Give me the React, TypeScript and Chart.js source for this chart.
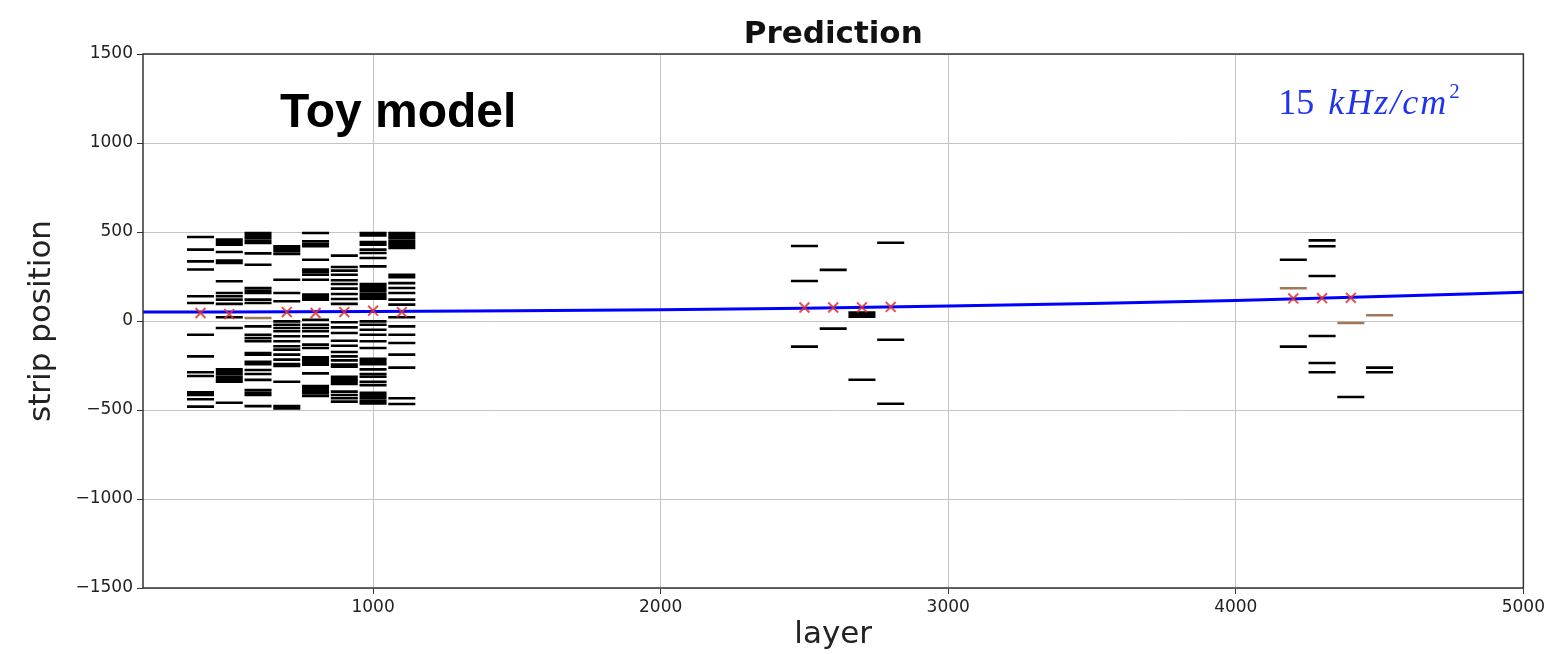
import { useEffect, useRef } from "react";
import { Chart, registerables } from "chart.js";

Chart.register(...registerables);

// ---------- data ----------
const stripLayers = [400, 500, 600, 700, 800, 900, 1000, 1100, 2500, 2600, 2700, 2800, 4200, 4300, 4400, 4500];

const strips400 = [472, 401, 335, 289, 139, 101, -77, -199, -288, -309, -400, -415, -440, -481];
const strips500 = [457, 444, 429, 388, 339, 326, 223, 157, 139, 120, 96, 21, -39, -272, -285, -298, -313, -328, -341, -459];
const strips600 = [494, 481, 466, 451, 438, 380, 316, 185, 170, 157, 120, 101, -30, -77, -96, -114, -180, -189, -229, -242, -275, -298, -331, -388, -403, -416, -478];
const strips700 = [420, 406, 392, 376, 232, 157, 111, -2, -21, -39, -58, -86, -114, -142, -161, -189, -217, -242, -253, -341, -478, -491];
const strips800 = [494, 448, 433, 420, 344, 289, 275, 260, 232, 148, 133, 120, 7, -21, -39, -58, -86, -133, -152, -204, -217, -230, -245, -294, -365, -378, -391, -406, -421];
const strips900 = [367, 303, 283, 260, 229, 208, 182, 152, 124, 96, -7, -36, -67, -111, -139, -174, -199, -221, -245, -257, -313, -328, -341, -354, -397, -416, -434, -453];
const strips1000 = [494, 481, 444, 429, 401, 382, 354, 307, 208, 195, 182, 167, 152, 139, 125, -2, -21, -49, -77, -114, -152, -212, -227, -242, -272, -298, -313, -341, -360, -403, -418, -433, -448, -463];
const strips1100 = [494, 481, 466, 451, 438, 425, 410, 260, 246, 213, 185, 157, 120, 92, 21, -30, -77, -124, -189, -262, -434, -466];
const strips2500 = [421, 225, -144];
const strips2600 = [287, -43];
const strips2700 = [48, 36, 24, -330];
const strips2800 = [440, -105, -465];
const strips4200 = [344, -144];
const strips4300 = [453, 420, 253, -84, -236, -288];
const strips4400 = [-427];
const strips4500 = [-262, -288];

const blackStrips = [
  strips400, strips500, strips600, strips700, strips800, strips900, strips1000, strips1100,
  strips2500, strips2600, strips2700, strips2800, strips4200, strips4300, strips4400, strips4500,
];

const brownLayers = [600, 4200, 4400, 4500];
const brownStrips = [17, 184, -11, 32];

const predLayers = [400, 500, 700, 800, 900, 1000, 1100, 2500, 2600, 2700, 2800, 4200, 4300, 4400];
const predStrips = [45, 39, 50, 45, 50, 58, 50, 76, 76, 77, 79, 127, 128, 130];

const fitLayers = [200, 1000, 1500, 2000, 2500, 3000, 3500, 4000, 4500, 5000];
const fitStrips = [50, 53, 57, 63, 72, 84, 98, 115, 137, 162];

const xTicks = [1000, 2000, 3000, 4000, 5000];
const yTicks = [-1500, -1000, -500, 0, 500, 1000, 1500];

const stripHalfWidth = 47;

const chartTitle = "Prediction";
const xTitle = "layer";
const yTitle = "strip position";
const toyLabel = "Toy model";
const toyAnchor = { x: 676, y: 1090 };
const rateNumber = "15";
const rateUnit = "kHz/cm";
const rateExp = "2";
const rateAnchor = { x: 4148, y: 1163 };

// ---------- helpers ----------
function segments(layers: number[], stripsPer: number[][]) {
  const pts: { x: number; y: number | null }[] = [];
  layers.forEach((L, i) => {
    stripsPer[i].forEach((s) => {
      pts.push({ x: L - stripHalfWidth, y: s });
      pts.push({ x: L + stripHalfWidth, y: s });
      pts.push({ x: L, y: null });
    });
  });
  return pts;
}

const overlayPlugin = {
  id: "overlay",
  afterDatasetsDraw(chart: any) {
    const { ctx, chartArea, scales } = chart;
    ctx.save();
    ctx.strokeStyle = "#333333";
    ctx.lineWidth = 1.5;
    ctx.strokeRect(chartArea.left, chartArea.top, chartArea.right - chartArea.left, chartArea.bottom - chartArea.top);

    // title
    ctx.fillStyle = "#111111";
    ctx.font = 'bold 31px "DejaVu Sans", sans-serif';
    ctx.textAlign = "center";
    ctx.textBaseline = "alphabetic";
    ctx.fillText(chartTitle, (chartArea.left + chartArea.right) / 2, chartArea.top - 11);

    // Toy model label
    const tx = scales.x.getPixelForValue(toyAnchor.x);
    const ty = scales.y.getPixelForValue(toyAnchor.y);
    ctx.fillStyle = "#000000";
    ctx.font = 'bold 48px "Liberation Sans", Arial, sans-serif';
    ctx.textAlign = "left";
    ctx.fillText(toyLabel, tx, ty);

    // rate label
    let rx = scales.x.getPixelForValue(rateAnchor.x);
    const ry = scales.y.getPixelForValue(rateAnchor.y);
    ctx.fillStyle = "#2233ee";
    ctx.font = '36px "Liberation Serif", serif';
    ctx.fillText(rateNumber, rx, ry);
    rx += ctx.measureText(rateNumber).width + 14;
    ctx.font = 'italic 36px "Liberation Serif", serif';
    (ctx as any).letterSpacing = "2px";
    ctx.fillText(rateUnit, rx, ry);
    rx += ctx.measureText(rateUnit).width + 1;
    (ctx as any).letterSpacing = "0px";
    ctx.font = '21px "Liberation Serif", serif';
    ctx.fillText(rateExp, rx, ry - 16);
    ctx.restore();
  },
};

export default function App() {
  const ref = useRef<HTMLCanvasElement | null>(null);

  useEffect(() => {
    document.body.style.margin = "0";
    const canvas = ref.current;
    if (!canvas) return;

    const tickFont = { family: '"DejaVu Sans", sans-serif', size: 17 };
    const gridCfg = { color: "#c4c4c4", lineWidth: 1, tickColor: "#333333", tickLength: 6, drawTicks: true };

    const chart = new Chart(canvas, {
      type: "scatter",
      data: {
        datasets: [
          {
            label: "pred",
            data: predLayers.map((x, i) => ({ x, y: predStrips[i] })),
            showLine: false,
            pointStyle: "crossRot",
            pointRadius: 7,
            pointBorderWidth: 2,
            borderColor: "rgba(225,50,50,0.85)",
            backgroundColor: "rgba(225,50,50,0.85)",
          },
          {
            label: "fit",
            data: fitLayers.map((x, i) => ({ x, y: fitStrips[i] })),
            showLine: true,
            borderColor: "#0000ff",
            borderWidth: 3,
            pointRadius: 0,
            cubicInterpolationMode: "monotone",
          },
          {
            label: "brown",
            data: segments(brownLayers, brownStrips.map((v) => [v])),
            showLine: true,
            spanGaps: false,
            borderColor: "#a0785a",
            borderWidth: 2.6,
            borderCapStyle: "butt",
            pointRadius: 0,
          },
          {
            label: "strips",
            data: segments(stripLayers, blackStrips),
            showLine: true,
            spanGaps: false,
            borderColor: "#000000",
            borderWidth: 2.6,
            borderCapStyle: "butt",
            pointRadius: 0,
          },
        ],
      } as any,
      options: {
        animation: false,
        responsive: false,
        layout: { padding: { left: 0, right: 24, top: 54, bottom: 0 } },
        plugins: {
          legend: { display: false },
          tooltip: { enabled: false },
          title: { display: false },
        },
        scales: {
          x: {
            type: "linear",
            min: 200,
            max: 5000,
            afterBuildTicks: (s: any) => {
              s.ticks = xTicks.map((v) => ({ value: v }));
            },
            afterFit: (s: any) => {
              s.height = 66;
            },
            grid: gridCfg,
            border: { display: false },
            ticks: {
              font: tickFont,
              color: "#222222",
              padding: 3,
              maxRotation: 0,
              autoSkip: false,
              callback: (v: any) => String(v),
            },
            title: {
              display: true,
              text: xTitle,
              color: "#222222",
              font: { family: '"DejaVu Sans", sans-serif', size: 31 },
              padding: { top: 0, bottom: 0 },
            },
          },
          y: {
            type: "linear",
            min: -1500,
            max: 1500,
            afterBuildTicks: (s: any) => {
              s.ticks = yTicks.map((v) => ({ value: v }));
            },
            afterFit: (s: any) => {
              s.width = 143;
            },
            grid: gridCfg,
            border: { display: false },
            ticks: {
              font: tickFont,
              color: "#222222",
              padding: 4,
              autoSkip: false,
              callback: (v: any) => (Number(v) < 0 ? "\u2212" + Math.abs(Number(v)) : String(v)),
            },
            title: {
              display: true,
              text: yTitle,
              color: "#222222",
              font: { family: '"DejaVu Sans", sans-serif', size: 31 },
              padding: { top: 23, bottom: 0 },
            },
          },
        },
      } as any,
      plugins: [overlayPlugin],
    });

    return () => chart.destroy();
  }, []);

  return (
    <div style={{ position: "absolute", left: 0, top: 0, width: 1548, height: 654, background: "#ffffff" }}>
      <canvas ref={ref} width={1548} height={654} style={{ display: "block" }} />
    </div>
  );
}
